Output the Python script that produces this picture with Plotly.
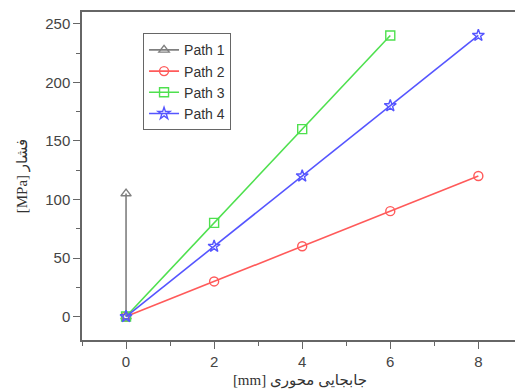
import plotly.graph_objects as go

path1_x = [0, 0]
path1_y = [0, 105]
path2_x = [0, 2, 4, 6, 8]
path2_y = [0, 30, 60, 90, 120]
path3_x = [0, 2, 4, 6]
path3_y = [0, 80, 160, 240]
path4_x = [0, 2, 4, 6, 8]
path4_y = [0, 60, 120, 180, 240]

series = [
    ("Path 1", path1_x, path1_y, "#7f7f7f", "triangle-up-open"),
    ("Path 2", path2_x, path2_y, "#ff5a5a", "circle-open"),
    ("Path 3", path3_x, path3_y, "#4ee04e", "square-open"),
    ("Path 4", path4_x, path4_y, "#5555ff", "star-open"),
]

fig = go.Figure()
for name, xs, ys, col, sym in series:
    fig.add_trace(go.Scatter(
        x=xs, y=ys, name=name, mode="lines+markers",
        line=dict(color=col, width=1.6),
        marker=dict(symbol=sym, size=9, color=col, line=dict(width=1.4, color=col)),
    ))

tickfont = dict(family="Liberation Sans, Arial", size=15, color="#444")
# page body has an 8px default margin; compensate so the plot box lands where the reference has it
fig.update_layout(
    width=515, height=384,
    margin=dict(l=74, r=5, t=4, b=52),
    paper_bgcolor="white", plot_bgcolor="white",
    showlegend=True,
    legend=dict(x=0.14, y=0.935, xanchor="left", yanchor="top",
                bgcolor="white", bordercolor="#666", borderwidth=1,
                font=dict(family="Liberation Sans, Arial", size=14, color="#333"),
                tracegroupgap=0, itemwidth=30),
)
fig.update_xaxes(
    range=[-1, 8.9], tickvals=[0, 2, 4, 6, 8], ticks="outside", ticklen=7,
    tickcolor="#666", showgrid=False, zeroline=False, automargin=False,
    showline=True, mirror=True, linecolor="#666", linewidth=1.5,
    tickfont=tickfont,
    minor=dict(dtick=1, tick0=0, ticks="outside", ticklen=4, tickcolor="#666", showgrid=False),
    title=dict(text="[mm] جابجایی محوری", standoff=6,
               font=dict(family="Liberation Serif, DejaVu Sans", size=15, color="#333")),
)
fig.update_yaxes(
    range=[-20, 260], tickvals=[0, 50, 100, 150, 200, 250], ticks="outside", ticklen=7,
    tickcolor="#666", showgrid=False, zeroline=False, automargin=False,
    showline=True, mirror=True, linecolor="#666", linewidth=1.5,
    tickfont=tickfont,
    minor=dict(dtick=25, tick0=0, ticks="outside", ticklen=4, tickcolor="#666", showgrid=False),
    title=dict(text="[MPa] فشار", standoff=14,
               font=dict(family="Liberation Serif, DejaVu Sans", size=15, color="#333")),
)
fig.write_html("out.html")
